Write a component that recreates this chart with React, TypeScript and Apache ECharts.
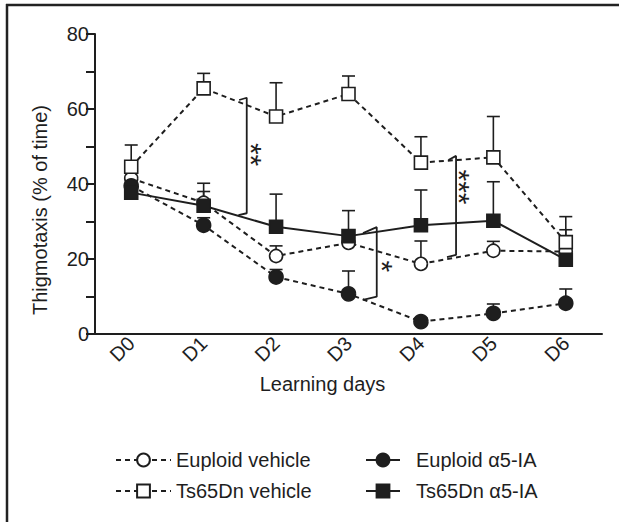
import React, { useEffect, useRef } from "react";
import * as echarts from "echarts";

const days = ["D0", "D1", "D2", "D3", "D4", "D5", "D6"];
const yTicks = [0, 20, 40, 60, 80];

const euploidVehicle = [41.5, 35, 20.8, 24.3, 18.7, 22.2, 22];
const euploidVehicleErr = [2, 3, 2.7, 2, 6.1, 2.5, 3];
const euploidA5 = [39.5, 29, 15.2, 10.7, 3.3, 5.5, 8.2];
const euploidA5Err = [2, 2, 2, 6.1, 1, 2.5, 3.8];
const ts65Vehicle = [44.6, 65.5, 58, 64, 45.7, 47.1, 24.5];
const ts65VehicleErr = [5.8, 4, 9, 4.8, 6.9, 10.9, 6.8];
const ts65A5 = [37.7, 34.2, 28.6, 26.1, 29, 30.2, 19.8];
const ts65A5Err = [2, 6, 8.7, 6.8, 9.4, 10.4, 8];

const brackets = [
  [[1.49, 62.4], [1.595, 63.0], [1.595, 32.2], [1.48, 31.7]],
  [[3.2, 26.9], [3.39, 28.5], [3.39, 9.95], [3.2, 9.07]],
  [[4.38, 46.4], [4.485, 47.5], [4.485, 21.1], [4.36, 20.5]],
];
// [x, y of centre, number of asterisks]
const stars = [
  [1.71, 47.05, 2],
  [3.52, 17.25, 1],
  [4.585, 38.4, 3],
];

const FONT = "'Liberation Sans', Arial, sans-serif";
const INK = "#1e1e1e";

function errSeries(name: string, means: number[], errs: number[]) {
  return {
    name: name + " err",
    type: "custom",
    xAxisIndex: 0,
    yAxisIndex: 0,
    z: 1,
    silent: true,
    data: means.map((m, i) => [i, m, errs[i]]),
    encode: { x: 0, y: 1 },
    renderItem: (params: any, api: any) => {
      const x = api.value(0);
      const m = api.value(1);
      const e = api.value(2);
      const p0 = api.coord([x, m]);
      const p1 = api.coord([x, m + e]);
      const hw = 6.5;
      const st = { stroke: INK, lineWidth: 1.6 };
      return {
        type: "group",
        children: [
          { type: "line", shape: { x1: p0[0], y1: p0[1], x2: p1[0], y2: p1[1] }, style: st },
          { type: "line", shape: { x1: p1[0] - hw, y1: p1[1], x2: p1[0] + hw, y2: p1[1] }, style: st },
        ],
      };
    },
  };
}

function lineSeries(name: string, data: number[], symbol: string, filled: boolean, dashed: boolean, size: number) {
  return {
    name,
    type: "line",
    xAxisIndex: 0,
    yAxisIndex: 0,
    z: 3,
    data,
    symbol,
    symbolSize: size,
    showAllSymbol: true,
    lineStyle: { color: INK, width: 2, type: dashed ? [5, 4] : "solid" },
    itemStyle: { color: filled ? INK : "#ffffff", borderColor: INK, borderWidth: 1.6 },
  };
}

export default function App() {
  const ref = useRef<HTMLDivElement>(null);
  useEffect(() => {
    if (!ref.current) return;
    const chart = echarts.init(ref.current, undefined, { renderer: "svg" });
    const option: any = {
      animation: false,
      backgroundColor: "#ffffff",
      textStyle: { fontFamily: FONT },
      grid: { left: 95, right: 17, top: 34, bottom: 188, containLabel: false },
      xAxis: [
        {
          type: "category",
          data: days,
          boundaryGap: true,
          axisLine: { lineStyle: { color: INK, width: 2 } },
          axisTick: { alignWithLabel: true, length: 8, lineStyle: { color: INK, width: 2 } },
          axisLabel: { rotate: 45, fontSize: 20, color: INK, margin: 6, fontFamily: FONT },
          name: "Learning days",
          nameLocation: "middle",
          nameGap: 40,
          nameTextStyle: { fontSize: 20, color: INK, fontFamily: FONT, padding: [0, 52, 0, 0] },
        },
        { type: "value", min: -0.5, max: 6.5, show: false },
      ],
      yAxis: {
        type: "value",
        min: yTicks[0],
        max: yTicks[yTicks.length - 1],
        interval: 20,
        axisLine: { show: true, onZero: false, lineStyle: { color: INK, width: 2 } },
        axisTick: { show: true, length: 9, lineStyle: { color: INK, width: 2 } },
        minorTick: { show: true, splitNumber: 2, length: 9, lineStyle: { color: INK, width: 2 } },
        splitLine: { show: false },
        axisLabel: { fontSize: 20, color: INK, margin: 6, fontFamily: FONT },
        name: "Thigmotaxis (% of time)",
        nameLocation: "middle",
        nameGap: 45,
        nameRotate: 90,
        nameTextStyle: { fontSize: 20, color: INK, fontFamily: FONT, padding: [0, 52, 0, 0] },
      },
      legend: [
        {
          data: ["Euploid vehicle", "Ts65Dn vehicle"],
          orient: "vertical",
          left: 110,
          top: 445,
          itemWidth: 55,
          itemHeight: 16,
          itemGap: 11,
          selectedMode: false,
          textStyle: { fontSize: 20, color: INK, fontFamily: FONT, padding: [0, 0, 0, 0] },
        },
        {
          data: ["Euploid α5-IA", "Ts65Dn α5-IA"],
          orient: "vertical",
          left: 360,
          top: 445,
          itemWidth: 34,
          itemHeight: 16,
          itemGap: 11,
          selectedMode: false,
          lineStyle: { type: "solid" },
          textStyle: { fontSize: 20, color: INK, fontFamily: FONT, padding: [0, 0, 0, 11] },
        },
      ],
      graphic: [
        { type: "line", shape: { x1: 6, y1: 5, x2: 619, y2: 5 }, style: { stroke: "#222", lineWidth: 2.5 } },
        { type: "line", shape: { x1: 7, y1: 4, x2: 7, y2: 522 }, style: { stroke: "#222", lineWidth: 2.5 } },
      ],
      series: [
        errSeries("Euploid vehicle", euploidVehicle, euploidVehicleErr),
        errSeries("Euploid α5-IA", euploidA5, euploidA5Err),
        errSeries("Ts65Dn vehicle", ts65Vehicle, ts65VehicleErr),
        errSeries("Ts65Dn α5-IA", ts65A5, ts65A5Err),
        lineSeries("Euploid vehicle", euploidVehicle, "circle", false, true, 13),
        lineSeries("Euploid α5-IA", euploidA5, "circle", true, true, 14),
        lineSeries("Ts65Dn vehicle", ts65Vehicle, "rect", false, true, 13),
        lineSeries("Ts65Dn α5-IA", ts65A5, "rect", true, false, 13),
        ...brackets.map((b, i) => ({
          name: "bracket" + i,
          type: "line",
          xAxisIndex: 1,
          yAxisIndex: 0,
          z: 4,
          silent: true,
          symbol: "none",
          data: b,
          lineStyle: { color: INK, width: 1.8 },
        })),
        {
          name: "stars",
          type: "scatter",
          xAxisIndex: 1,
          yAxisIndex: 0,
          z: 5,
          silent: true,
          symbolSize: 1,
          itemStyle: { color: "rgba(0,0,0,0)", opacity: 1 },
          data: stars.map((s) => ({ value: [s[0], s[1]], count: s[2] })),
          label: {
            show: true,
            position: "inside",
            rotate: -90,
            formatter: (p: any) => "*".repeat(p.data.count),
            fontSize: 30,
            color: INK,
            textBorderWidth: 0,
            fontFamily: FONT,
            offset: [-3, 4],
          },
        },
      ],
    };
    chart.setOption(option);
    return () => chart.dispose();
  }, []);
  return (
    <div
      ref={ref}
      style={{ position: "fixed", left: 0, top: 0, width: 619, height: 522, background: "#fff" }}
    />
  );
}
